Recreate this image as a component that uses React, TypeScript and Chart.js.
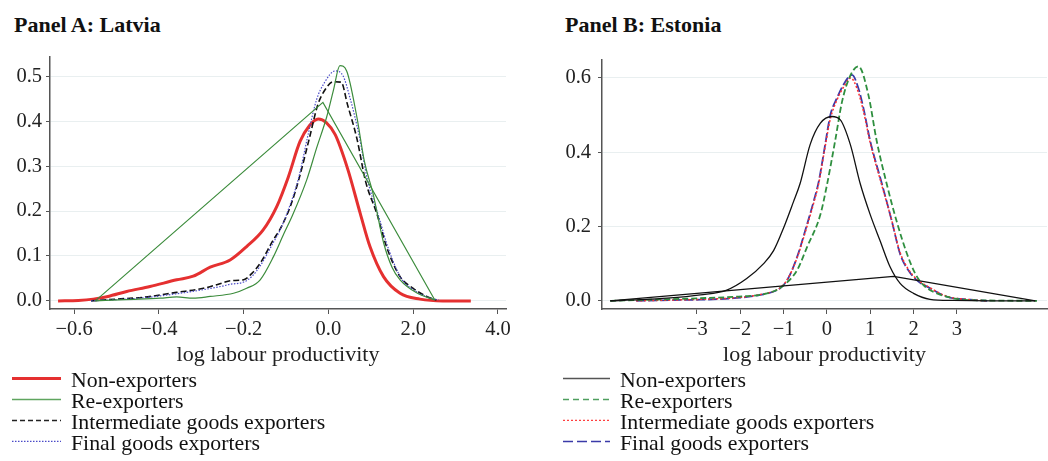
import React, { useEffect, useRef } from 'react';
import { Chart, registerables } from 'chart.js';

Chart.register(...registerables);

type Pt = [number, number];

const FONT = "'Liberation Serif', 'Times New Roman', serif";

// ---------- tick labels ----------
const latviaXTickValues = [-6, -4, -2, 0, 2, 4];
const latviaXTickLabels = ['−0.6', '−0.4', '−0.2', '0.0', '2.0', '4.0'];
const latviaYTicks = [0, 0.1, 0.2, 0.3, 0.4, 0.5];

const estoniaXTickValues = [-3, -2, -1, 0, 1, 2, 3];
const estoniaXTickLabels = ['−3', '−2', '−1', '0', '1', '2', '3'];
const estoniaYTicks = [0, 0.2, 0.4, 0.6];

const seriesNames = ['Non-exporters', 'Re-exporters', 'Intermediate goods exporters', 'Final goods exporters'];
const panelTitles = ['Panel A: Latvia', 'Panel B: Estonia'];
const xAxisTitle = 'log labour productivity';

// ---------- Panel A: Latvia ----------
const lvNonExporters: Pt[] = [
  [-6.38, 0], [-5.9, 0.001], [-5.55, 0.004], [-5.2, 0.01], [-4.76, 0.021], [-4.21, 0.032],
  [-3.58, 0.047], [-3.19, 0.055], [-2.79, 0.075], [-2.32, 0.091], [-1.93, 0.121], [-1.54, 0.158],
  [-1.22, 0.21], [-0.95, 0.275], [-0.67, 0.355], [-0.45, 0.39], [-0.24, 0.405], [-0.05, 0.397],
  [0.16, 0.37], [0.45, 0.295], [0.75, 0.195], [0.98, 0.121], [1.3, 0.054], [1.69, 0.017],
  [2.16, 0.004], [2.7, 0.0], [3.36, 0],
];
const lvReExporters: Pt[] = [
  [-5.5, 0], [-4.8, 0.003], [-3.97, 0.006], [-3.58, 0.009], [-3.19, 0.006], [-2.79, 0.01],
  [-2.24, 0.017], [-1.93, 0.028], [-1.61, 0.047], [-1.3, 0.098], [-1.05, 0.15], [-0.85, 0.19],
  [-0.51, 0.27], [-0.28, 0.34], [-0.04, 0.41], [0.12, 0.47], [0.27, 0.524], [0.43, 0.512],
  [0.67, 0.41], [0.85, 0.31], [1.05, 0.24], [1.3, 0.13], [1.5, 0.075], [1.69, 0.047],
  [2.08, 0.018], [2.51, 0.002],
];
const lvReExportersClosing: Pt[] = [[2.51, 0.002], [-0.13, 0.442], [-5.5, 0]];
const lvIntermediate: Pt[] = [
  [-5.6, 0], [-5.0, 0.004], [-4.37, 0.008], [-3.58, 0.019], [-2.95, 0.028], [-2.5, 0.04],
  [-2.32, 0.045], [-2.0, 0.047], [-1.8, 0.062], [-1.61, 0.084], [-1.3, 0.136], [-1.14, 0.16],
  [-0.9, 0.21], [-0.7, 0.27], [-0.45, 0.362], [-0.25, 0.437], [-0.08, 0.47], [0.12, 0.488],
  [0.3, 0.487], [0.45, 0.437], [0.67, 0.362], [0.88, 0.265], [1.14, 0.195], [1.37, 0.121],
  [1.69, 0.054], [2.0, 0.028], [2.32, 0.01], [2.55, 0.002],
];
const lvFinal: Pt[] = [
  [-5.6, 0], [-5.0, 0.003], [-4.37, 0.007], [-3.58, 0.016], [-2.95, 0.025], [-2.5, 0.033],
  [-2.32, 0.037], [-2.0, 0.042], [-1.8, 0.055], [-1.61, 0.078], [-1.3, 0.13], [-1.14, 0.158],
  [-0.9, 0.215], [-0.7, 0.275], [-0.48, 0.37], [-0.28, 0.448], [-0.1, 0.485], [0.16, 0.512],
  [0.35, 0.5], [0.5, 0.455], [0.72, 0.37], [0.92, 0.27], [1.18, 0.19], [1.42, 0.115],
  [1.72, 0.05], [2.05, 0.022], [2.35, 0.008], [2.6, 0.002],
];

// ---------- Panel B: Estonia ----------
const eeNonExporters: Pt[] = [
  [-5.0, 0], [-4.3, 0.003], [-3.69, 0.007], [-2.92, 0.016], [-2.31, 0.029], [-1.85, 0.06],
  [-1.46, 0.1], [-1.23, 0.135], [-1.0, 0.196], [-0.77, 0.267], [-0.62, 0.315], [-0.385, 0.421],
  [-0.15, 0.478], [0.115, 0.496], [0.31, 0.487], [0.54, 0.421], [0.77, 0.315], [1.0, 0.232],
  [1.23, 0.161], [1.46, 0.091], [1.69, 0.047], [2.0, 0.02], [2.38, 0.004], [2.92, 0.001],
  [3.8, 0], [4.81, 0],
];
const eeNonExportersClosing: Pt[] = [[4.81, 0], [1.54, 0.066], [-5.0, 0]];
const eeReExporters: Pt[] = [
  [-5.0, 0], [-4.08, 0.003], [-2.92, 0.007], [-2.15, 0.011], [-1.38, 0.02], [-1.04, 0.038],
  [-0.69, 0.082], [-0.46, 0.144], [-0.15, 0.232], [0.0, 0.311], [0.19, 0.43], [0.35, 0.536],
  [0.54, 0.606], [0.73, 0.631], [0.96, 0.553], [1.15, 0.43], [1.38, 0.315], [1.61, 0.214],
  [1.85, 0.126], [2.04, 0.073], [2.23, 0.042], [2.54, 0.02], [3.08, 0.004], [3.69, 0.001],
  [4.85, 0],
];
const eeIntermediate: Pt[] = [
  [-4.4, 0], [-3.6, 0.002], [-2.92, 0.004], [-2.15, 0.008], [-1.54, 0.017], [-1.08, 0.035],
  [-0.92, 0.056], [-0.69, 0.115], [-0.46, 0.2], [-0.3, 0.265], [-0.19, 0.315], [-0.04, 0.415],
  [0.08, 0.49], [0.23, 0.54], [0.4, 0.578], [0.55, 0.6], [0.7, 0.57], [0.845, 0.51],
  [1.0, 0.425], [1.27, 0.31], [1.5, 0.215], [1.69, 0.13], [1.88, 0.085], [2.08, 0.058],
  [2.38, 0.035], [2.77, 0.012], [3.31, 0.003], [3.7, 0],
];
const eeFinal: Pt[] = [
  [-4.4, 0], [-3.6, 0.002], [-2.92, 0.003], [-2.15, 0.007], [-1.54, 0.016], [-1.08, 0.034],
  [-0.92, 0.055], [-0.69, 0.117], [-0.46, 0.205], [-0.3, 0.27], [-0.19, 0.32], [-0.04, 0.42],
  [0.08, 0.5], [0.23, 0.545], [0.4, 0.585], [0.58, 0.608], [0.72, 0.575], [0.845, 0.518],
  [1.0, 0.43], [1.27, 0.315], [1.5, 0.214], [1.69, 0.126], [1.88, 0.082], [2.08, 0.055],
  [2.38, 0.034], [2.77, 0.011], [3.31, 0.003], [3.7, 0],
];

// ---------- helpers ----------
function ds(points: Pt[], color: string, width: number, dash: number[], smooth: boolean) {
  return {
    data: points.map(([x, y]) => ({ x, y })),
    borderColor: color,
    backgroundColor: color,
    borderWidth: width,
    borderDash: dash,
    pointRadius: 0,
    fill: false,
    tension: smooth ? 0.4 : 0,
    cubicInterpolationMode: smooth ? 'monotone' : 'default',
  };
}

interface PanelProps {
  left: number;
  datasets: any[];
  xMin: number; xMax: number; xTicks: number[]; xLabels: string[];
  yMin: number; yMax: number; yTicks: number[];
  yAxisWidth: number; yPad: number;
  padding: { left: number; top: number; right: number; bottom: number };
}

function Panel(p: PanelProps) {
  const ref = useRef<HTMLCanvasElement>(null);
  useEffect(() => {
    const chart = new Chart(ref.current as HTMLCanvasElement, {
      type: 'line',
      data: { datasets: p.datasets },
      options: {
        animation: false,
        responsive: false,
        maintainAspectRatio: false,
        layout: { padding: p.padding },
        plugins: { legend: { display: false }, tooltip: { enabled: false }, title: { display: false } },
        scales: {
          x: {
            type: 'linear',
            min: p.xMin,
            max: p.xMax,
            afterBuildTicks: (s: any) => { s.ticks = p.xTicks.map((v) => ({ value: v })); },
            afterFit: (s: any) => { s.height = 61; },
            ticks: {
              autoSkip: false,
              maxRotation: 0,
              padding: 3,
              color: '#222',
              font: { family: FONT, size: 20.5 },
              callback: (_v: any, i: number) => p.xLabels[i],
            },
            grid: { drawOnChartArea: false, drawTicks: true, tickLength: 5, color: '#555' },
            border: { display: true, color: '#555', width: 1.5 },
            title: {
              display: true,
              text: xAxisTitle,
              color: '#222',
              font: { family: FONT, size: 22 },
              padding: { top: 0, bottom: 2 },
            },
          },
          y: {
            type: 'linear',
            min: p.yMin,
            max: p.yMax,
            afterBuildTicks: (s: any) => { s.ticks = p.yTicks.map((v) => ({ value: v })); },
            afterFit: (s: any) => { s.width = p.yAxisWidth; },
            ticks: {
              padding: p.yPad,
              color: '#222',
              font: { family: FONT, size: 20.5 },
              callback: (v: any) => Number(v).toFixed(1),
            },
            grid: { drawTicks: true, tickLength: 4, color: '#e9eff0', tickColor: '#555', lineWidth: 1 },
            border: { display: true, color: '#555', width: 1.5 },
          },
        },
      } as any,
    });
    return () => chart.destroy();
  }, []);
  return (
    <canvas
      ref={ref}
      width={524}
      height={330}
      style={{ position: 'absolute', left: p.left, top: 40, width: 524, height: 330 }}
    />
  );
}

interface LegendItem { color: string; width: number; dash: string }

function Legend({ lineLeft, lineLen, textLeft, items }: { lineLeft: number; lineLen: number; textLeft: number; items: LegendItem[] }) {
  return (
    <div style={{ position: 'absolute', left: 0, top: 370.4, width: 1048 }}>
      {items.map((it, i) => (
        <div key={i} style={{ position: 'relative', height: 20.8 }}>
          <svg width={lineLen} height={20.8} style={{ position: 'absolute', left: lineLeft, top: 0 }}>
            <line x1={0} y1={8.4} x2={lineLen} y2={8.4} stroke={it.color} strokeWidth={it.width} strokeDasharray={it.dash} />
          </svg>
          <span
            style={{
              position: 'absolute', left: textLeft, top: 0, fontFamily: FONT, fontSize: 21.8,
              lineHeight: '20.8px', color: '#111', whiteSpace: 'nowrap',
            }}
          >
            {seriesNames[i]}
          </span>
        </div>
      ))}
    </div>
  );
}

export default function App() {
  const latviaSets = [
    ds(lvReExporters, '#3c8c3c', 1.2, [], true),
    ds(lvReExportersClosing, '#3c8c3c', 1.2, [], false),
    ds(lvFinal, '#4a4ac8', 1.2, [1.5, 1.5], true),
    ds(lvIntermediate, '#111111', 1.6, [6, 3], true),
    ds(lvNonExporters, '#e53030', 3, [], true),
  ];
  const estoniaSets = [
    ds(eeNonExporters, '#111111', 1.3, [], true),
    ds(eeNonExportersClosing, '#111111', 1.3, [], false),
    ds(eeReExporters, '#2f8f3f', 1.8, [6, 3], true),
    ds(eeIntermediate, '#ff3030', 1.5, [2, 2], true),
    ds(eeFinal, '#3a3aa8', 1.8, [9, 3], true),
  ];

  const titleStyle: React.CSSProperties = {
    position: 'absolute', top: 13.8, fontFamily: FONT, fontWeight: 'bold', fontSize: 22,
    lineHeight: '21px', color: '#111', whiteSpace: 'nowrap',
  };

  return (
    <div style={{ position: 'absolute', left: 0, top: 0, width: 1048, height: 461, background: '#fff', overflow: 'hidden' }}>
      <div style={{ ...titleStyle, left: 14 }}>{panelTitles[0]}</div>
      <div style={{ ...titleStyle, left: 565 }}>{panelTitles[1]}</div>
      <Panel
        left={0}
        datasets={latviaSets}
        xMin={-6.57} xMax={4.19} xTicks={latviaXTickValues} xLabels={latviaXTickLabels}
        yMin={-0.018} yMax={0.543} yTicks={latviaYTicks}
        yAxisWidth={50} yPad={4}
        padding={{ left: 0, top: 17, right: 18, bottom: 0 }}
      />
      <Panel
        left={524}
        datasets={estoniaSets}
        xMin={-5.19} xMax={5.08} xTicks={estoniaXTickValues} xLabels={estoniaXTickLabels}
        yMin={-0.022} yMax={0.65} yTicks={estoniaYTicks}
        yAxisWidth={78} yPad={7}
        padding={{ left: 0, top: 15, right: 1, bottom: 0 }}
      />
      <Legend
        lineLeft={12} lineLen={49} textLeft={71}
        items={[
          { color: '#e53030', width: 3, dash: '' },
          { color: '#5fa55f', width: 1.5, dash: '' },
          { color: '#222222', width: 1.5, dash: '5 3' },
          { color: '#4a4ac8', width: 1.2, dash: '1.5 1.5' },
        ]}
      />
      <Legend
        lineLeft={563} lineLen={47} textLeft={620}
        items={[
          { color: '#555555', width: 1.5, dash: '' },
          { color: '#4f9f5f', width: 1.5, dash: '6 4' },
          { color: '#ff4040', width: 1.2, dash: '2 2' },
          { color: '#3a3aa8', width: 1.5, dash: '10 4' },
        ]}
      />
    </div>
  );
}
